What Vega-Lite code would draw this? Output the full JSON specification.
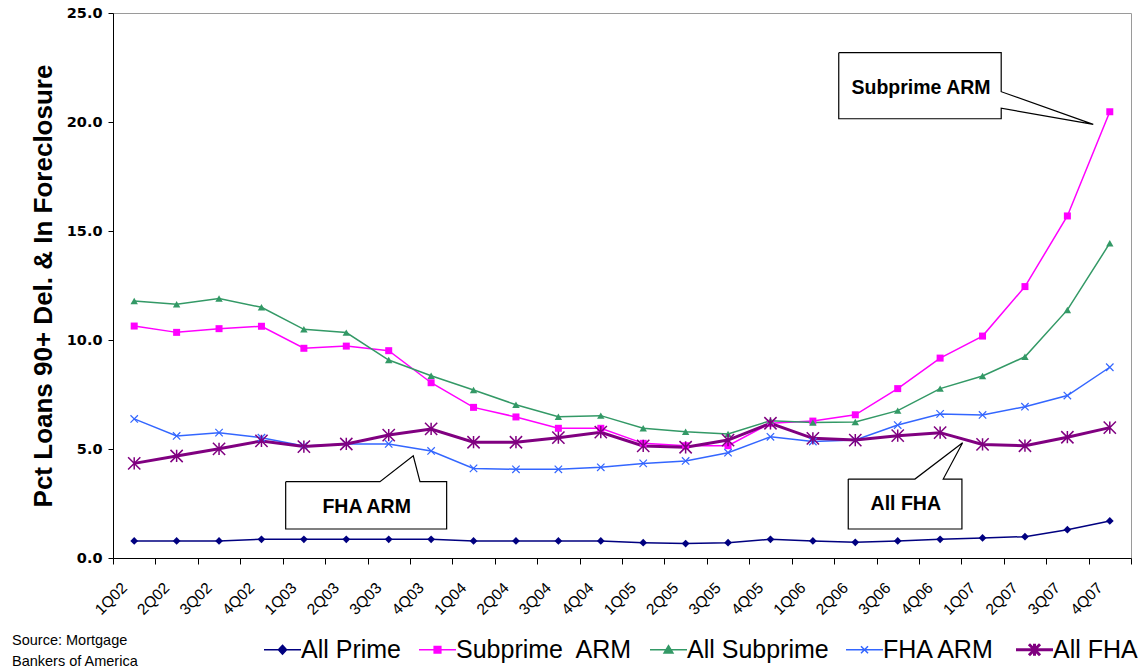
{
  "$schema": "https://vega.github.io/schema/vega-lite/v6.json",
  "width": 1018,
  "height": 545,
  "autosize": {"type": "none"},
  "padding": {"left": 113, "top": 13, "right": 12, "bottom": 114},
  "background": "white",
  "config": {
    "font": "Liberation Sans",
    "view": {"stroke": "#9a9a9a", "strokeWidth": 1},
    "axis": {"grid": false, "domainColor": "black", "tickColor": "black", "labelColor": "black", "titleColor": "black"}
  },
  "title": {
    "text": ["Source: Mortgage", "Bankers of America"],
    "orient": "bottom",
    "anchor": "start",
    "frame": "group",
    "fontSize": 14.5,
    "fontWeight": "normal",
    "font": "Liberation Sans",
    "color": "black",
    "lineHeight": 21,
    "dx": -101,
    "offset": -29
  },
  "datasets": {
    "loans": [
      {"quarter": "1Q02", "idx": 0, "All Prime": 0.78, "Subprime ARM": 10.64, "All Subprime": 11.79, "FHA ARM": 6.38, "All FHA": 4.34},
      {"quarter": "2Q02", "idx": 1, "All Prime": 0.78, "Subprime ARM": 10.35, "All Subprime": 11.64, "FHA ARM": 5.60, "All FHA": 4.68},
      {"quarter": "3Q02", "idx": 2, "All Prime": 0.78, "Subprime ARM": 10.52, "All Subprime": 11.90, "FHA ARM": 5.75, "All FHA": 5.01},
      {"quarter": "4Q02", "idx": 3, "All Prime": 0.86, "Subprime ARM": 10.63, "All Subprime": 11.50, "FHA ARM": 5.52, "All FHA": 5.37},
      {"quarter": "1Q03", "idx": 4, "All Prime": 0.86, "Subprime ARM": 9.62, "All Subprime": 10.49, "FHA ARM": 5.14, "All FHA": 5.11},
      {"quarter": "2Q03", "idx": 5, "All Prime": 0.86, "Subprime ARM": 9.72, "All Subprime": 10.34, "FHA ARM": 5.23, "All FHA": 5.23},
      {"quarter": "3Q03", "idx": 6, "All Prime": 0.86, "Subprime ARM": 9.51, "All Subprime": 9.08, "FHA ARM": 5.23, "All FHA": 5.64},
      {"quarter": "4Q03", "idx": 7, "All Prime": 0.86, "Subprime ARM": 8.04, "All Subprime": 8.36, "FHA ARM": 4.91, "All FHA": 5.92},
      {"quarter": "1Q04", "idx": 8, "All Prime": 0.78, "Subprime ARM": 6.91, "All Subprime": 7.71, "FHA ARM": 4.11, "All FHA": 5.31},
      {"quarter": "2Q04", "idx": 9, "All Prime": 0.78, "Subprime ARM": 6.47, "All Subprime": 7.03, "FHA ARM": 4.07, "All FHA": 5.31},
      {"quarter": "3Q04", "idx": 10, "All Prime": 0.78, "Subprime ARM": 5.95, "All Subprime": 6.48, "FHA ARM": 4.07, "All FHA": 5.52},
      {"quarter": "4Q04", "idx": 11, "All Prime": 0.78, "Subprime ARM": 5.95, "All Subprime": 6.53, "FHA ARM": 4.16, "All FHA": 5.77},
      {"quarter": "1Q05", "idx": 12, "All Prime": 0.70, "Subprime ARM": 5.26, "All Subprime": 5.95, "FHA ARM": 4.34, "All FHA": 5.14},
      {"quarter": "2Q05", "idx": 13, "All Prime": 0.66, "Subprime ARM": 5.15, "All Subprime": 5.79, "FHA ARM": 4.45, "All FHA": 5.08},
      {"quarter": "3Q05", "idx": 14, "All Prime": 0.70, "Subprime ARM": 5.15, "All Subprime": 5.69, "FHA ARM": 4.83, "All FHA": 5.41},
      {"quarter": "4Q05", "idx": 15, "All Prime": 0.86, "Subprime ARM": 6.18, "All Subprime": 6.30, "FHA ARM": 5.56, "All FHA": 6.18},
      {"quarter": "1Q06", "idx": 16, "All Prime": 0.78, "Subprime ARM": 6.28, "All Subprime": 6.21, "FHA ARM": 5.34, "All FHA": 5.49},
      {"quarter": "2Q06", "idx": 17, "All Prime": 0.72, "Subprime ARM": 6.57, "All Subprime": 6.24, "FHA ARM": 5.41, "All FHA": 5.41},
      {"quarter": "3Q06", "idx": 18, "All Prime": 0.78, "Subprime ARM": 7.77, "All Subprime": 6.76, "FHA ARM": 6.10, "All FHA": 5.61},
      {"quarter": "4Q06", "idx": 19, "All Prime": 0.86, "Subprime ARM": 9.17, "All Subprime": 7.77, "FHA ARM": 6.61, "All FHA": 5.75},
      {"quarter": "1Q07", "idx": 20, "All Prime": 0.92, "Subprime ARM": 10.18, "All Subprime": 8.35, "FHA ARM": 6.56, "All FHA": 5.21},
      {"quarter": "2Q07", "idx": 21, "All Prime": 0.98, "Subprime ARM": 12.45, "All Subprime": 9.23, "FHA ARM": 6.94, "All FHA": 5.15},
      {"quarter": "3Q07", "idx": 22, "All Prime": 1.30, "Subprime ARM": 15.69, "All Subprime": 11.38, "FHA ARM": 7.45, "All FHA": 5.54},
      {"quarter": "4Q07", "idx": 23, "All Prime": 1.70, "Subprime ARM": 20.47, "All Subprime": 14.44, "FHA ARM": 8.75, "All FHA": 5.98}
    ],
    "callouts": [
      {"callout": "Subprime ARM", "ord": 1, "x": 16.61, "y": 23.18},
      {"callout": "Subprime ARM", "ord": 2, "x": 20.44, "y": 23.18},
      {"callout": "Subprime ARM", "ord": 3, "x": 20.44, "y": 21.39},
      {"callout": "Subprime ARM", "ord": 4, "x": 22.61, "y": 19.89},
      {"callout": "Subprime ARM", "ord": 5, "x": 20.44, "y": 20.63},
      {"callout": "Subprime ARM", "ord": 6, "x": 20.44, "y": 20.15},
      {"callout": "Subprime ARM", "ord": 7, "x": 16.61, "y": 20.15},
      {"callout": "Subprime ARM", "ord": 8, "x": 16.61, "y": 23.18},
      {"callout": "FHA ARM", "ord": 1, "x": 3.571, "y": 3.50},
      {"callout": "FHA ARM", "ord": 2, "x": 5.794, "y": 3.50},
      {"callout": "FHA ARM", "ord": 3, "x": 6.579, "y": 4.69},
      {"callout": "FHA ARM", "ord": 4, "x": 6.737, "y": 3.50},
      {"callout": "FHA ARM", "ord": 5, "x": 7.366, "y": 3.50},
      {"callout": "FHA ARM", "ord": 6, "x": 7.366, "y": 1.33},
      {"callout": "FHA ARM", "ord": 7, "x": 3.571, "y": 1.33},
      {"callout": "FHA ARM", "ord": 8, "x": 3.571, "y": 3.50},
      {"callout": "All FHA", "ord": 1, "x": 16.834, "y": 3.62},
      {"callout": "All FHA", "ord": 2, "x": 18.406, "y": 3.62},
      {"callout": "All FHA", "ord": 3, "x": 19.53, "y": 5.29},
      {"callout": "All FHA", "ord": 4, "x": 19.073, "y": 3.62},
      {"callout": "All FHA", "ord": 5, "x": 19.514, "y": 3.62},
      {"callout": "All FHA", "ord": 6, "x": 19.514, "y": 1.33},
      {"callout": "All FHA", "ord": 7, "x": 16.834, "y": 1.33},
      {"callout": "All FHA", "ord": 8, "x": 16.834, "y": 3.62}
    ],
    "calloutLabels": [
      {"label": "Subprime ARM", "x": 18.55, "y": 21.57},
      {"label": "FHA ARM", "x": 5.48, "y": 2.35},
      {"label": "All FHA", "x": 18.19, "y": 2.46}
    ]
  },
  "layer": [
    {
      "data": {"name": "loans"},
      "transform": [
        {"fold": ["All Prime", "Subprime ARM", "All Subprime", "FHA ARM", "All FHA"], "as": ["series", "value"]}
      ],
      "encoding": {
        "x": {
          "field": "idx",
          "type": "quantitative",
          "scale": {"domain": [-0.5, 23.5], "nice": false, "zero": false},
          "axis": {
            "title": null,
            "values": [-0.5, 0.5, 1.5, 2.5, 3.5, 4.5, 5.5, 6.5, 7.5, 8.5, 9.5, 10.5, 11.5, 12.5, 13.5, 14.5, 15.5, 16.5, 17.5, 18.5, 19.5, 20.5, 21.5, 22.5, 23.5],
            "labelExpr": "datum.value < 23 ? ((datum.value + 0.5) % 4 + 1) + 'Q0' + (floor((datum.value + 0.5) / 4) + 2) : ''",
            "labelOffset": 6,
            "labelAngle": -45,
            "labelAlign": "right",
            "labelBaseline": "top",
            "labelFontSize": 15.5,
            "labelOverlap": false,
            "labelFlush": false,
            "labelPadding": 16,
            "tickSize": 6,
            "domainColor": "black"
          }
        },
        "y": {
          "field": "value",
          "type": "quantitative",
          "scale": {"domain": [0, 25], "nice": false},
          "axis": {
            "values": [0, 5, 10, 15, 20, 25],
            "format": ".1f",
            "labelFont": "DejaVu Sans",
            "labelFontSize": 14.5,
            "labelFontWeight": "bold",
            "labelPadding": 6,
            "tickSize": 5,
            "title": "Pct Loans 90+ Del. & In Foreclosure",
            "titleFontSize": 26,
            "titleFontWeight": "bold",
            "titlePadding": 10
          }
        },
        "color": {
          "field": "series",
          "type": "nominal",
          "scale": {
            "domain": ["All Prime", "Subprime ARM", "All Subprime", "FHA ARM", "All FHA"],
            "range": ["#000080", "#FF00FF", "#339966", "#3366FF", "#800080"]
          },
          "legend": {
            "orient": "none",
            "legendX": 157,
            "legendY": 624,
            "direction": "horizontal",
            "title": null,
            "labelFontSize": 25,
            "labelFont": "Liberation Sans",
            "labelColor": "black",
            "labelLimit": 0,
            "labelExpr": "datum.label === 'Subprime ARM' ? 'Subprime\u00a0 ARM' : datum.label",
            "symbolSize": 1369,
            "labelOffset": 6,
            "columnPadding": 14,
            "encode": {
              "symbols": {
                "update": {
                  "shape": {"signal": "datum.value === 'All Prime' ? 'M-1,0L1,0M0,-0.24L0.22,0L0,0.24L-0.22,0Z' : datum.value === 'Subprime ARM' ? 'M-1,0L1,0M-0.18,-0.18L0.18,-0.18L0.18,0.18L-0.18,0.18Z' : datum.value === 'All Subprime' ? 'M-1,0L1,0M0,-0.22L0.24,0.18L-0.24,0.18Z' : datum.value === 'FHA ARM' ? 'M-1,0L1,0M-0.19,-0.19L0.19,0.19M-0.19,0.19L0.19,-0.19' : 'M-1,0L1,0M-0.3,-0.3L0.3,0.3M-0.3,0.3L0.3,-0.3M0,-0.33L0,0.33'"},
                  "fill": {"scale": "color", "field": "value"},
                  "stroke": {"scale": "color", "field": "value"},
                  "strokeWidth": {"signal": "datum.value === 'All FHA' ? 3 : 1.5"},
                  "opacity": {"value": 1}
                }
              }
            }
          }
        }
      },
      "layer": [
        {
          "transform": [{"filter": "datum.series !== 'All FHA'"}],
          "mark": {"type": "line", "strokeWidth": 1.5}
        },
        {
          "transform": [{"filter": "datum.series === 'All FHA'"}],
          "mark": {"type": "line", "strokeWidth": 3}
        },
        {
          "transform": [{"filter": "datum.series === 'All Prime'"}],
          "mark": {"type": "point", "shape": "diamond", "size": 60, "filled": true, "opacity": 1}
        },
        {
          "transform": [{"filter": "datum.series === 'Subprime ARM'"}],
          "mark": {"type": "point", "shape": "square", "size": 49, "filled": true, "opacity": 1}
        },
        {
          "transform": [{"filter": "datum.series === 'All Subprime'"}],
          "mark": {"type": "point", "shape": "triangle-up", "size": 55, "filled": true, "opacity": 1}
        },
        {
          "transform": [{"filter": "datum.series === 'FHA ARM'"}],
          "mark": {"type": "point", "shape": "M-1,-1L1,1M-1,1L1,-1", "size": 55, "filled": false, "strokeWidth": 1.2, "opacity": 1}
        },
        {
          "transform": [{"filter": "datum.series === 'All FHA'"}],
          "mark": {"type": "point", "shape": "M-1,-1L1,1M-1,1L1,-1M0,-1L0,1", "size": 150, "filled": false, "strokeWidth": 1.5, "opacity": 1}
        }
      ]
    },
    {
      "data": {"name": "callouts"},
      "mark": {"type": "line", "color": "black", "strokeWidth": 1.2},
      "encoding": {
        "x": {"field": "x", "type": "quantitative"},
        "y": {"field": "y", "type": "quantitative"},
        "detail": {"field": "callout"},
        "order": {"field": "ord", "type": "quantitative"}
      }
    },
    {
      "data": {"name": "calloutLabels"},
      "mark": {"type": "text", "font": "Liberation Sans", "fontWeight": "bold", "fontSize": 19.5, "color": "black", "align": "center", "baseline": "middle"},
      "encoding": {
        "x": {"field": "x", "type": "quantitative"},
        "y": {"field": "y", "type": "quantitative"},
        "text": {"field": "label"}
      }
    }
  ]
}
